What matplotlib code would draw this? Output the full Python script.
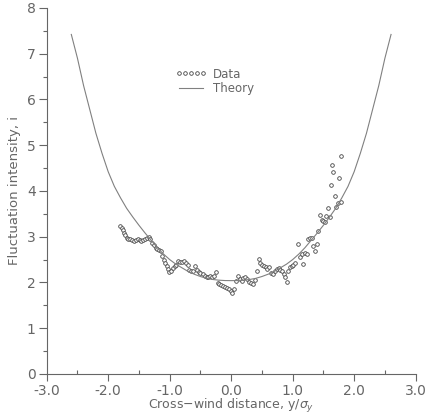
import numpy as np
import matplotlib.pyplot as plt
from matplotlib.ticker import MultipleLocator, FormatStrFormatter

data_x = [-1.80, -1.78, -1.76, -1.74, -1.72, -1.70, -1.67, -1.64, -1.61, -1.58,
          -1.55, -1.52, -1.49, -1.46, -1.43, -1.40, -1.37, -1.34, -1.32, -1.29,
          -1.26, -1.23, -1.20, -1.17, -1.14, -1.12, -1.10, -1.07, -1.05, -1.03,
          -1.01, -0.98, -0.95, -0.92, -0.89, -0.86, -0.83, -0.80, -0.77, -0.74,
          -0.71, -0.68, -0.65, -0.62, -0.59, -0.56, -0.53, -0.50, -0.46, -0.43,
          -0.40, -0.37, -0.34, -0.31, -0.28, -0.25, -0.22, -0.19, -0.16, -0.13,
          -0.10, -0.07, -0.04, -0.01, 0.02, 0.05, 0.08, 0.11, 0.14, 0.17,
          0.20, 0.23, 0.26, 0.29, 0.32, 0.35, 0.38, 0.42, 0.45, 0.47,
          0.50, 0.53, 0.56, 0.59, 0.62, 0.65, 0.68, 0.71, 0.74, 0.77,
          0.80, 0.83, 0.86, 0.88, 0.90, 0.93, 0.96, 0.99, 1.01, 1.04,
          1.09, 1.12, 1.15, 1.17, 1.20, 1.23, 1.25, 1.28, 1.31, 1.33,
          1.36, 1.39, 1.41, 1.44, 1.47, 1.49, 1.52, 1.55, 1.57, 1.60,
          1.63, 1.64, 1.66, 1.69, 1.71, 1.73, 1.76, 1.79, 1.78]
data_i = [3.24, 3.19, 3.14, 3.08, 3.03, 2.98, 2.96, 2.94, 2.92, 2.90,
          2.93, 2.96, 2.93, 2.91, 2.92, 2.95, 2.98, 3.00, 2.94, 2.87,
          2.82, 2.76, 2.74, 2.72, 2.68, 2.58, 2.50, 2.42, 2.36, 2.29,
          2.22, 2.25, 2.31, 2.35, 2.38, 2.46, 2.45, 2.44, 2.46, 2.43,
          2.39, 2.28, 2.25, 2.24, 2.37, 2.28, 2.23, 2.20, 2.18, 2.15,
          2.12, 2.11, 2.14, 2.12, 2.15, 2.22, 1.99, 1.96, 1.94, 1.92,
          1.91, 1.88, 1.85, 1.82, 1.78, 1.86, 2.04, 2.15, 2.08, 2.04,
          2.10, 2.12, 2.07, 2.02, 1.99, 1.97, 2.05, 2.26, 2.51, 2.43,
          2.38, 2.37, 2.34, 2.30, 2.33, 2.21, 2.18, 2.25, 2.29, 2.31,
          2.28, 2.26, 2.18, 2.11, 2.02, 2.24, 2.33, 2.36, 2.38, 2.42,
          2.83, 2.55, 2.62, 2.40, 2.65, 2.62, 2.94, 2.98, 2.97, 2.80,
          2.69, 2.83, 3.12, 3.48, 3.37, 3.35, 3.33, 3.45, 3.62, 3.44,
          4.14, 4.57, 4.41, 3.89, 3.65, 3.74, 4.29, 3.76, 4.77]

# theory curve
theory_x = [-2.6, -2.5, -2.4, -2.3, -2.2, -2.1, -2.0, -1.9, -1.8, -1.7, -1.6,
            -1.5, -1.4, -1.3, -1.2, -1.1, -1.0, -0.9, -0.8, -0.7, -0.6, -0.5,
            -0.4, -0.3, -0.2, -0.1, 0.0, 0.1, 0.2, 0.3, 0.4, 0.5, 0.6, 0.7,
            0.8, 0.9, 1.0, 1.1, 1.2, 1.3, 1.4, 1.5, 1.6, 1.7,
            1.8, 1.9, 2.0, 2.1, 2.2, 2.3, 2.4, 2.5, 2.6]
theory_i = [7.42, 6.90, 6.30, 5.78, 5.26, 4.82, 4.42, 4.10, 3.85, 3.62, 3.43,
            3.25, 3.08, 2.92, 2.76, 2.62, 2.50, 2.40, 2.32, 2.24, 2.18, 2.13,
            2.09, 2.065, 2.05, 2.042, 2.04, 2.042, 2.05, 2.065, 2.09, 2.13, 2.18, 2.24,
            2.32, 2.40, 2.50, 2.62, 2.76, 2.92, 3.08, 3.25, 3.43, 3.62,
            3.85, 4.10, 4.42, 4.82, 5.26, 5.78, 6.30, 6.90, 7.42]

grey = "#666666"

fig = plt.figure(figsize=(4.27, 4.16), dpi=100)
ax = fig.add_axes([0.1094, 0.101, 0.864, 0.88])

ax.plot(data_x, data_i, linestyle="none", marker="o", markersize=2.6,
        markerfacecolor="white", markeredgecolor="#444444",
        markeredgewidth=0.6, label="Data")
ax.plot(theory_x, theory_i, color="#808080", linewidth=0.8, label="Theory")

ax.set_xlim(-3.0, 3.0)
ax.set_ylim(0, 8)
ax.xaxis.set_major_locator(MultipleLocator(1.0))
ax.xaxis.set_minor_locator(MultipleLocator(0.5))
ax.yaxis.set_major_locator(MultipleLocator(1))
ax.yaxis.set_minor_locator(MultipleLocator(0.5))
ax.xaxis.set_major_formatter(FormatStrFormatter("%.1f"))

for side in ("top", "right"):
    ax.spines[side].set_visible(False)
for side in ("left", "bottom"):
    ax.spines[side].set_color(grey)
    ax.spines[side].set_linewidth(0.8)

ax.tick_params(axis="x", which="major", direction="out", length=5,
               width=0.8, color=grey, labelcolor=grey, labelsize=10, pad=2)
ax.tick_params(axis="x", which="minor", direction="in", length=3,
               width=0.8, color=grey)
ax.tick_params(axis="y", which="major", direction="out", length=6,
               width=0.8, color=grey, labelcolor=grey, labelsize=10, pad=2)
ax.tick_params(axis="y", which="minor", direction="out", length=3,
               width=0.8, color=grey)

ax.set_xlabel("Cross\u2212wind distance, y/$\\sigma_y$", color=grey,
              fontsize=9, labelpad=-0.5)
ax.set_ylabel("Fluctuation intensity, i", color=grey, fontsize=9.5,
              labelpad=4)

leg = ax.legend(loc="center left", bbox_to_anchor=(0.32, 0.80),
                frameon=False, numpoints=5, handlelength=2.6,
                handletextpad=0.6, labelspacing=0.1, fontsize=8.5)
for t in leg.get_texts():
    t.set_color(grey)

fig.savefig("out.png", dpi=100)
